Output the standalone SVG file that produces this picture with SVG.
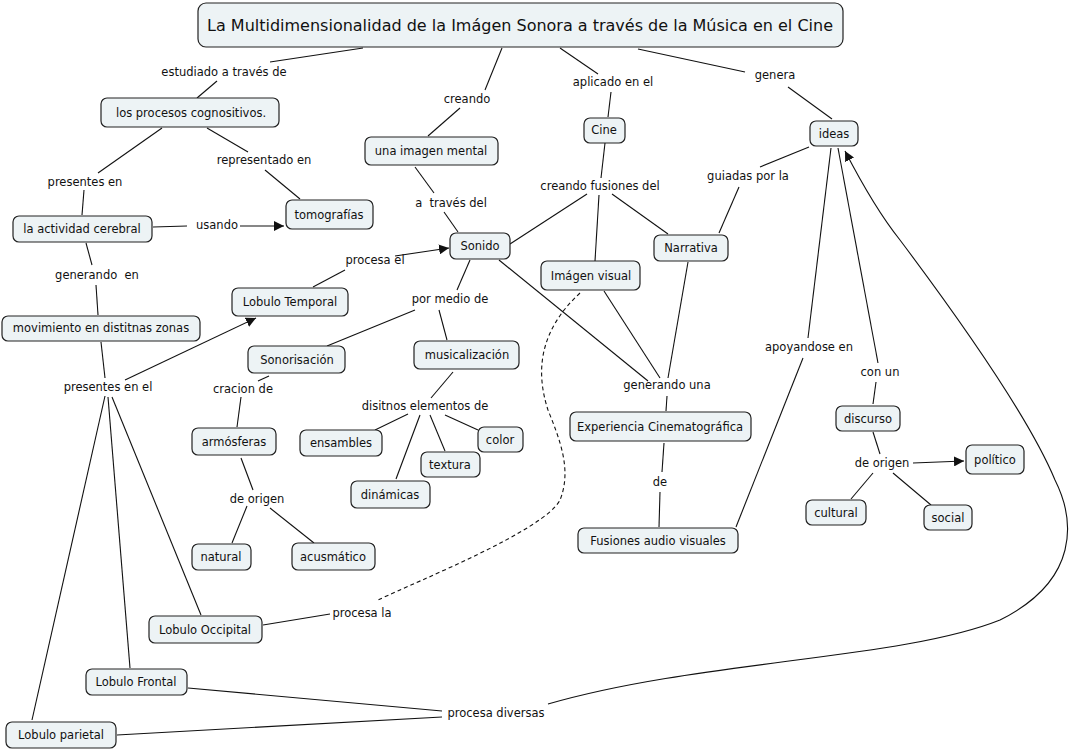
<svg xmlns="http://www.w3.org/2000/svg" width="1069" height="751" viewBox="0 0 1069 751">
<style>
.n rect{fill:#edf3f5;stroke:#222;stroke-width:1.2;}
text{font-family:"DejaVu Sans",Verdana,sans-serif;font-size:11.5px;fill:#111;text-anchor:middle;dominant-baseline:central;}
.t text{font-size:16px;}
.pre{white-space:pre;}
#connectors path,#connectors line{stroke:#111;stroke-width:1.1;fill:none;}
</style>
<defs>
<marker id="ar" viewBox="0 0 10 10" refX="10" refY="5" markerWidth="10" markerHeight="10" markerUnits="userSpaceOnUse" orient="auto"><path d="M0,0 L10,5 L0,10 z" fill="#111"/></marker>
</defs>
<rect width="1069" height="751" fill="#fff"/>
<g id="connectors">
<line x1="363" y1="48" x2="270" y2="62"/><line x1="217" y1="81" x2="197" y2="98"/>
<line x1="502" y1="48" x2="485" y2="90"/><line x1="460" y1="108" x2="428" y2="136"/>
<line x1="560" y1="48" x2="598" y2="74"/><line x1="611" y1="92" x2="608" y2="117"/>
<line x1="638" y1="49" x2="745" y2="72"/><line x1="788" y1="87" x2="832" y2="119"/>
<line x1="162" y1="128" x2="98" y2="173"/><line x1="84" y1="190" x2="82" y2="215"/>
<line x1="207" y1="128" x2="248" y2="152"/><line x1="265" y1="170" x2="300" y2="199"/>
<line x1="153" y1="227" x2="187" y2="226"/><line x1="240" y1="226" x2="284" y2="226" marker-end="url(#ar)"/>
<line x1="86" y1="243" x2="92" y2="265"/><line x1="96" y1="285" x2="98" y2="315"/>
<line x1="101" y1="342" x2="105" y2="378"/>
<line x1="125" y1="380" x2="256" y2="318" marker-end="url(#ar)"/>
<line x1="105" y1="396" x2="32" y2="720"/>
<line x1="108" y1="397" x2="130" y2="668"/>
<line x1="112" y1="397" x2="201" y2="615"/>
<line x1="313" y1="287" x2="345" y2="270"/><line x1="395" y1="256" x2="449" y2="248" marker-end="url(#ar)"/>
<line x1="415" y1="167" x2="434" y2="193"/><line x1="444" y1="212" x2="458" y2="232"/>
<line x1="470" y1="260" x2="457" y2="290"/>
<line x1="415" y1="310" x2="327" y2="346"/><line x1="439" y1="310" x2="447" y2="340"/>
<line x1="510" y1="244" x2="587" y2="194"/>
<line x1="605" y1="143" x2="601" y2="178"/>
<line x1="599" y1="195" x2="595" y2="261"/>
<line x1="612" y1="194" x2="668" y2="234"/>
<line x1="719" y1="233" x2="739" y2="187"/><line x1="760" y1="167" x2="809" y2="147"/>
<line x1="499" y1="260" x2="648" y2="381"/>
<line x1="604" y1="291" x2="660" y2="378"/>
<line x1="688" y1="262" x2="668" y2="378"/>
<line x1="667" y1="396" x2="666" y2="411"/>
<line x1="664" y1="443" x2="662" y2="472"/><line x1="660" y1="492" x2="659" y2="527"/>
<line x1="831" y1="148" x2="808" y2="338"/><line x1="803" y1="358" x2="736" y2="527"/>
<line x1="838" y1="148" x2="878" y2="363"/><line x1="876" y1="382" x2="873" y2="404"/>
<path d="M548,704 C700,660 900,660 1000,620 C1080,580 1075,520 1055,480 C1030,420 960,320 900,240 C880,215 860,180 845,151" marker-end="url(#ar)"/>
<path d="M580,293 C540,330 535,370 548,410 C560,440 572,470 560,500 C545,530 420,580 378,600" stroke-dasharray="4,3"/>
<line x1="263" y1="625" x2="330" y2="614"/>
<line x1="188" y1="688" x2="442" y2="711"/>
<line x1="117" y1="735" x2="442" y2="717"/>
<line x1="269" y1="376" x2="258" y2="381"/><line x1="241" y1="397" x2="237" y2="427"/>
<line x1="241" y1="458" x2="253" y2="490"/>
<line x1="247" y1="506" x2="232" y2="543"/><line x1="270" y1="508" x2="314" y2="543"/>
<line x1="453" y1="372" x2="431" y2="398"/>
<line x1="408" y1="414" x2="375" y2="430"/>
<line x1="420" y1="415" x2="396" y2="479"/>
<line x1="430" y1="415" x2="445" y2="451"/>
<line x1="445" y1="415" x2="478" y2="430"/>
<line x1="873" y1="432" x2="880" y2="454"/>
<line x1="873" y1="473" x2="851" y2="499"/>
<line x1="893" y1="473" x2="931" y2="505"/>
<line x1="913" y1="463" x2="964" y2="461" marker-end="url(#ar)"/>
</g>
<g id="labels">
<text x="224" y="72">estudiado a través de</text>
<text x="467" y="99">creando</text>
<text x="613" y="82">aplicado en el</text>
<text x="775" y="75">genera</text>
<text x="85" y="182">presentes en</text>
<text x="264" y="160">representado en</text>
<text x="217" y="225">usando</text>
<text x="451" y="203" class="pre">a  través del</text>
<text x="600" y="186">creando fusiones del</text>
<text x="748" y="176">guiadas por la</text>
<text x="97" y="275" class="pre">generando  en</text>
<text x="375" y="260">procesa el</text>
<text x="450" y="299">por medio de</text>
<text x="108" y="387">presentes en el</text>
<text x="243" y="389">cracion de</text>
<text x="425" y="406">disitnos elementos de</text>
<text x="257" y="499">de origen</text>
<text x="667" y="385">generando una</text>
<text x="660" y="482">de</text>
<text x="809" y="347">apoyandose en</text>
<text x="880" y="372">con un</text>
<text x="882" y="463">de origen</text>
<text x="362" y="613">procesa la</text>
<text x="496" y="713">procesa diversas</text>
</g>
<g id="title" class="n t"><rect x="198" y="3" width="645" height="44" rx="8"/><text x="520" y="25">La Multidimensionalidad de la Imágen Sonora a través de la Música en el Cine</text></g>
<g id="procesos" class="n"><rect x="101" y="98" width="178" height="29" rx="6"/><text x="191" y="113">los procesos cognositivos.</text></g>
<g id="tomografias" class="n"><rect x="286" y="200" width="87" height="29" rx="6"/><text x="329" y="215">tomografías</text></g>
<g id="actividad" class="n"><rect x="13" y="216" width="139" height="26" rx="6"/><text x="82" y="229">la actividad cerebral</text></g>
<g id="movimiento" class="n"><rect x="2" y="316" width="198" height="25" rx="6"/><text x="101" y="328">movimiento en distitnas zonas</text></g>
<g id="temporal" class="n"><rect x="232" y="288" width="116" height="28" rx="6"/><text x="290" y="302">Lobulo Temporal</text></g>
<g id="imagenmental" class="n"><rect x="365" y="137" width="133" height="28" rx="6"/><text x="431" y="151">una imagen mental</text></g>
<g id="sonido" class="n"><rect x="450" y="233" width="60" height="26" rx="6"/><text x="480" y="246">Sonido</text></g>
<g id="cine" class="n"><rect x="584" y="118" width="41" height="25" rx="6"/><text x="604" y="130">Cine</text></g>
<g id="ideas" class="n"><rect x="810" y="121" width="48" height="25" rx="6"/><text x="834" y="134">ideas</text></g>
<g id="narrativa" class="n"><rect x="654" y="235" width="74" height="26" rx="6"/><text x="691" y="248">Narrativa</text></g>
<g id="imagenvisual" class="n"><rect x="541" y="261" width="99" height="29" rx="6"/><text x="591" y="276">Imágen visual</text></g>
<g id="sonorisacion" class="n"><rect x="248" y="346" width="97" height="27" rx="6"/><text x="297" y="360">Sonorisación</text></g>
<g id="musicalizacion" class="n"><rect x="414" y="341" width="105" height="28" rx="6"/><text x="467" y="355">musicalización</text></g>
<g id="armosferas" class="n"><rect x="192" y="428" width="84" height="27" rx="6"/><text x="234" y="442">armósferas</text></g>
<g id="ensambles" class="n"><rect x="300" y="430" width="82" height="26" rx="6"/><text x="341" y="443">ensambles</text></g>
<g id="color" class="n"><rect x="478" y="427" width="45" height="25" rx="6"/><text x="500" y="440">color</text></g>
<g id="textura" class="n"><rect x="421" y="452" width="59" height="25" rx="6"/><text x="450" y="465">textura</text></g>
<g id="dinamicas" class="n"><rect x="351" y="481" width="79" height="27" rx="6"/><text x="390" y="495">dinámicas</text></g>
<g id="natural" class="n"><rect x="192" y="544" width="59" height="26" rx="6"/><text x="221" y="557">natural</text></g>
<g id="acusmatico" class="n"><rect x="292" y="543" width="83" height="27" rx="6"/><text x="333" y="557">acusmático</text></g>
<g id="experiencia" class="n"><rect x="570" y="412" width="181" height="29" rx="6"/><text x="660" y="427">Experiencia Cinematográfica</text></g>
<g id="fusiones" class="n"><rect x="578" y="528" width="160" height="25" rx="6"/><text x="658" y="541">Fusiones audio visuales</text></g>
<g id="discurso" class="n"><rect x="836" y="406" width="64" height="25" rx="6"/><text x="868" y="419">discurso</text></g>
<g id="politico" class="n"><rect x="966" y="445" width="58" height="29" rx="6"/><text x="995" y="460">político</text></g>
<g id="cultural" class="n"><rect x="806" y="500" width="60" height="25" rx="6"/><text x="836" y="513">cultural</text></g>
<g id="social" class="n"><rect x="924" y="505" width="48" height="25" rx="6"/><text x="948" y="518">social</text></g>
<g id="occipital" class="n"><rect x="149" y="616" width="113" height="27" rx="6"/><text x="205" y="630">Lobulo Occipital</text></g>
<g id="frontal" class="n"><rect x="86" y="669" width="101" height="26" rx="6"/><text x="136" y="682">Lobulo Frontal</text></g>
<g id="parietal" class="n"><rect x="6" y="722" width="110" height="26" rx="6"/><text x="61" y="735">Lobulo parietal</text></g>
</svg>
